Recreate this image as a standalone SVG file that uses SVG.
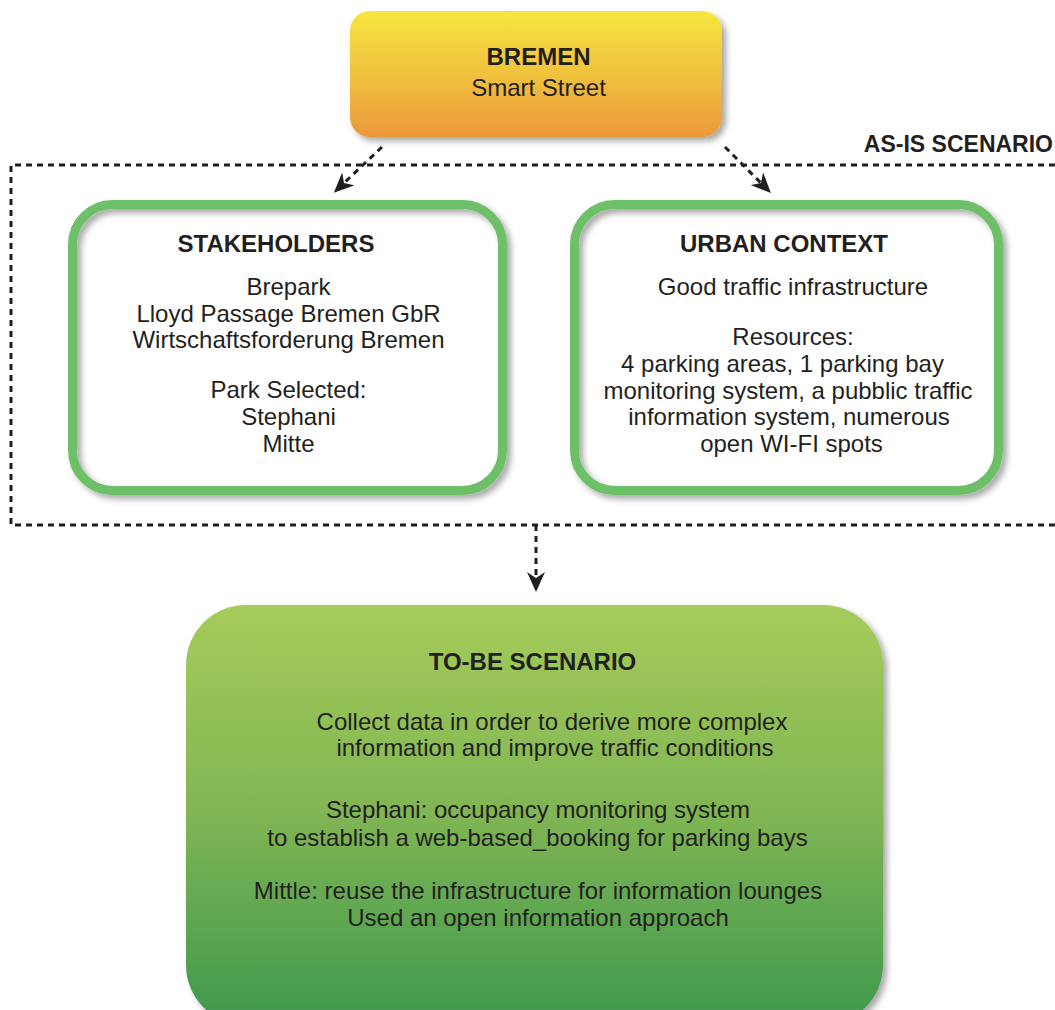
<svg xmlns="http://www.w3.org/2000/svg" width="1055" height="1010" viewBox="0 0 1055 1010">
  <style>
    text { font-family: "Liberation Sans", Arial, Helvetica, sans-serif; fill: #231f20; }
    .title { font-weight: bold; font-size: 24px; text-anchor: middle; }
    .body { font-size: 24px; text-anchor: middle; }
    .dash { fill: none; stroke: #231f20; stroke-width: 3; stroke-dasharray: 6 5; }
    .frame { fill: none; stroke: #6dbf67; stroke-width: 9; }
  </style>
  <defs>
    <linearGradient id="gradOrange" x1="0" y1="0" x2="0" y2="1">
      <stop offset="0" stop-color="#f6e640"/>
      <stop offset="0.5" stop-color="#f0c23e"/>
      <stop offset="1" stop-color="#ea983b"/>
    </linearGradient>
    <linearGradient id="gradGreen" x1="0" y1="0" x2="0" y2="1">
      <stop offset="0" stop-color="#a5cc5b"/>
      <stop offset="0.5" stop-color="#80b553"/>
      <stop offset="1" stop-color="#3d984f"/>
    </linearGradient>
    <filter id="shadow" x="-10%" y="-10%" width="125%" height="130%">
      <feDropShadow dx="4" dy="4" stdDeviation="3" flood-color="#000000" flood-opacity="0.35"/>
    </filter>
    <marker id="arrow" viewBox="0 0 20 18" refX="6" refY="9" markerWidth="20" markerHeight="18" markerUnits="userSpaceOnUse" orient="auto">
      <path d="M0,0 L20,9 L0,18 L6,9 Z" fill="#231f20"/>
    </marker>
  </defs>

  <!-- connectors and scenario frame -->
  <g id="connectors">
    <path class="dash" d="M1055,165 H11 V525 H1055"/>
    <path class="dash" d="M382,147 L344,183" marker-end="url(#arrow)"/>
    <path class="dash" d="M725,147 L761,183" marker-end="url(#arrow)"/>
    <path class="dash" d="M536,525 V578" marker-end="url(#arrow)"/>
  </g>

  <text x="1053" y="152" font-size="23" font-weight="bold" text-anchor="end">AS-IS SCENARIO</text>

  <!-- top node -->
  <g id="bremen">
    <rect x="350" y="11" width="372" height="126" rx="20" fill="url(#gradOrange)" filter="url(#shadow)"/>
    <text class="title" x="538.5" y="65">BREMEN</text>
    <text class="body" x="538.5" y="96">Smart Street</text>
  </g>

  <!-- stakeholders node -->
  <g id="stakeholders">
    <rect x="72.5" y="204.5" width="430" height="286" rx="40" fill="#ffffff"/>
    <rect class="frame" x="72.5" y="204.5" width="430" height="286" rx="40" filter="url(#shadow)"/>
    <text class="title" x="276" y="252">STAKEHOLDERS</text>
    <text class="body" x="288.5" y="295">Brepark</text>
    <text class="body" x="288.5" y="322">Lloyd Passage Bremen GbR</text>
    <text class="body" x="288.5" y="348">Wirtschaftsforderung Bremen</text>
    <text class="body" x="288.5" y="398">Park Selected:</text>
    <text class="body" x="288.5" y="425">Stephani</text>
    <text class="body" x="288.5" y="452">Mitte</text>
  </g>

  <!-- urban context node -->
  <g id="urban-context">
    <rect x="574.5" y="204.5" width="424" height="286" rx="40" fill="#ffffff"/>
    <rect class="frame" x="574.5" y="204.5" width="424" height="286" rx="40" filter="url(#shadow)"/>
    <text class="title" x="784" y="252">URBAN CONTEXT</text>
    <text class="body" x="793" y="295">Good traffic infrastructure</text>
    <text class="body" x="793" y="345">Resources:</text>
    <text class="body" x="782.5" y="372">4 parking areas, 1 parking bay</text>
    <text class="body" x="788" y="399">monitoring system, a pubblic traffic</text>
    <text class="body" x="789" y="425">information system, numerous</text>
    <text class="body" x="791.5" y="452">open WI-FI spots</text>
  </g>

  <!-- to-be scenario node -->
  <g id="to-be-scenario">
    <rect x="186" y="605" width="697" height="420" rx="60" fill="url(#gradGreen)" filter="url(#shadow)"/>
    <text class="title" x="532.5" y="670">TO-BE SCENARIO</text>
    <text class="body" x="552" y="730">Collect data in order to derive more complex</text>
    <text class="body" x="555" y="756">information and improve traffic conditions</text>
    <text class="body" x="538" y="818">Stephani: occupancy monitoring system</text>
    <text class="body" x="537.5" y="846">to establish a web-based_booking for parking bays</text>
    <text class="body" x="538" y="899">Mittle: reuse the infrastructure for information lounges</text>
    <text class="body" x="538" y="926">Used an open information approach</text>
  </g>
</svg>
